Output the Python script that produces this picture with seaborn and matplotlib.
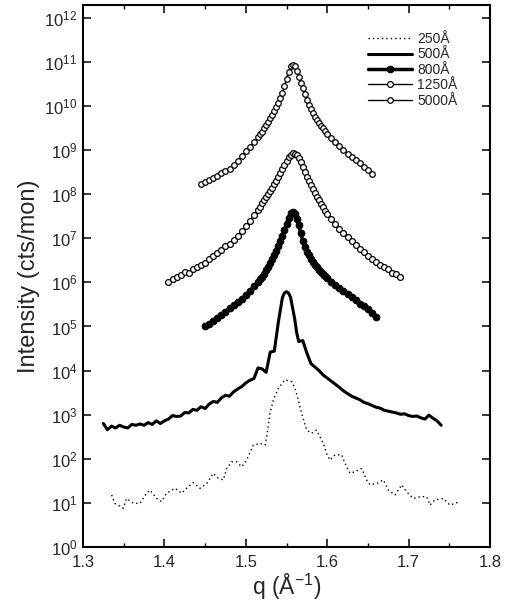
import numpy as np
import matplotlib
matplotlib.use("Agg")
import matplotlib.pyplot as plt
from matplotlib.ticker import LogFormatterMathtext, MultipleLocator, NullLocator
import seaborn as sns

# --- data (q in 1/A, log10 of intensity) ---
q_250 = [1.3352, 1.339, 1.3495, 1.3536, 1.3618, 1.370, 1.378, 1.3823, 1.3905, 1.3966,
         1.4027, 1.413, 1.4212, 1.4294, 1.4355, 1.4437, 1.452, 1.460, 1.4662, 1.4724,
         1.4765, 1.4826, 1.4888, 1.4949, 1.501, 1.5093, 1.5174, 1.5236, 1.5257, 1.5297,
         1.5338, 1.540, 1.5482, 1.5563, 1.5605, 1.5645, 1.5686, 1.5748, 1.5809, 1.587,
         1.5952, 1.5993, 1.6034, 1.6096, 1.6178, 1.6218, 1.628, 1.6341, 1.6423, 1.6485,
         1.6526, 1.6608, 1.669, 1.6751, 1.6833, 1.6915, 1.6976, 1.7058, 1.714, 1.7221,
         1.7263, 1.7324, 1.7426, 1.7508, 1.757, 1.7631]
log_250 = [1.18, 0.99, 0.88, 1.10, 0.99, 0.99, 1.22, 1.29, 1.10, 1.03,
           1.22, 1.33, 1.22, 1.37, 1.46, 1.33, 1.44, 1.67, 1.56, 1.52,
           1.78, 1.93, 1.93, 1.82, 1.97, 2.31, 2.35, 2.31, 2.50, 3.03,
           3.33, 3.60, 3.79, 3.75, 3.60, 3.33, 3.03, 2.65, 2.58, 2.65,
           2.35, 2.12, 1.97, 2.09, 2.09, 1.90, 1.67, 1.71, 1.78, 1.52,
           1.41, 1.44, 1.52, 1.29, 1.18, 1.41, 1.25, 1.10, 1.14, 1.14,
           0.95, 1.07, 1.10, 0.95, 0.99, 1.03]

q_500 = [1.325, 1.330, 1.335, 1.340, 1.345, 1.350, 1.355, 1.360, 1.365, 1.370,
         1.375, 1.380, 1.385, 1.390, 1.395, 1.400, 1.405, 1.410, 1.415, 1.420,
         1.425, 1.430, 1.435, 1.440, 1.445, 1.450, 1.455, 1.460, 1.465, 1.470,
         1.475, 1.480, 1.485, 1.490, 1.495, 1.500, 1.505, 1.510, 1.515, 1.520,
         1.525, 1.530, 1.535, 1.540, 1.545, 1.5475, 1.550, 1.5525, 1.555, 1.5575,
         1.560, 1.5625, 1.565, 1.570, 1.575, 1.580, 1.585, 1.590, 1.595, 1.600,
         1.605, 1.610, 1.615, 1.620, 1.625, 1.630, 1.635, 1.640, 1.645, 1.650,
         1.655, 1.660, 1.665, 1.670, 1.675, 1.680, 1.685, 1.690, 1.695, 1.700,
         1.705, 1.710, 1.715, 1.720, 1.725, 1.730, 1.735, 1.740]
log_500 = [2.80, 2.66, 2.74, 2.70, 2.76, 2.72, 2.70, 2.78, 2.76, 2.79,
           2.76, 2.82, 2.78, 2.86, 2.80, 2.86, 2.90, 2.98, 2.96, 2.97,
           3.05, 3.04, 3.12, 3.10, 3.18, 3.14, 3.24, 3.30, 3.28, 3.38,
           3.44, 3.42, 3.52, 3.58, 3.64, 3.72, 3.78, 3.82, 4.06, 4.04,
           3.96, 4.42, 4.44, 5.10, 5.66, 5.76, 5.79, 5.76, 5.66, 5.42,
           5.18, 4.86, 4.66, 4.68, 4.40, 4.16, 4.08, 4.00, 3.90, 3.83,
           3.76, 3.69, 3.62, 3.54, 3.48, 3.42, 3.38, 3.34, 3.28, 3.25,
           3.21, 3.17, 3.15, 3.10, 3.08, 3.06, 3.04, 3.01, 3.02, 2.98,
           2.96, 2.97, 2.93, 2.90, 2.99, 2.92, 2.86, 2.76]

q_800 = [1.450, 1.455, 1.460, 1.465, 1.470, 1.475, 1.480, 1.485, 1.490, 1.495,
         1.500, 1.505, 1.510, 1.515, 1.520, 1.525, 1.530, 1.535, 1.540, 1.545,
         1.550, 1.555, 1.560, 1.565, 1.570, 1.575, 1.580, 1.585, 1.590, 1.595,
         1.600, 1.605, 1.610, 1.615, 1.620, 1.625, 1.630, 1.635, 1.640, 1.645,
         1.650, 1.655, 1.660]
log_800 = [5.00, 5.06, 5.13, 5.20, 5.27, 5.34, 5.41, 5.48, 5.56, 5.63,
           5.72, 5.81, 5.91, 6.01, 6.13, 6.27, 6.44, 6.62, 6.82, 7.05,
           7.33, 7.57, 7.55, 7.30, 6.94, 6.70, 6.53, 6.40, 6.29, 6.19,
           6.10, 6.02, 5.94, 5.87, 5.80, 5.73, 5.66, 5.59, 5.52, 5.46,
           5.39, 5.31, 5.22]

q_1250 = [1.405, 1.410, 1.415, 1.420, 1.425, 1.430, 1.435, 1.440, 1.445, 1.450,
          1.455, 1.460, 1.465, 1.470, 1.475, 1.480, 1.485, 1.490, 1.495, 1.500,
          1.505, 1.510, 1.515, 1.520, 1.525, 1.530, 1.535, 1.540, 1.545, 1.550,
          1.555, 1.560, 1.565, 1.570, 1.575, 1.580, 1.585, 1.590, 1.595, 1.600,
          1.605, 1.610, 1.615, 1.620, 1.625, 1.630, 1.635, 1.640, 1.645, 1.650,
          1.655, 1.660, 1.665, 1.670, 1.675, 1.680, 1.685, 1.690]
log_1250 = [6.00, 6.08, 6.12, 6.16, 6.24, 6.22, 6.30, 6.34, 6.40, 6.44,
            6.52, 6.60, 6.67, 6.74, 6.82, 6.88, 6.97, 7.06, 7.16, 7.28,
            7.40, 7.52, 7.65, 7.79, 7.93, 8.07, 8.23, 8.40, 8.58, 8.76,
            8.90, 8.92, 8.82, 8.62, 8.40, 8.20, 8.02, 7.86, 7.70, 7.56,
            7.44, 7.32, 7.20, 7.11, 7.02, 6.93, 6.84, 6.76, 6.69, 6.60,
            6.52, 6.46, 6.40, 6.34, 6.30, 6.22, 6.18, 6.12]

q_5000 = [1.445, 1.450, 1.455, 1.460, 1.465, 1.470, 1.475, 1.480, 1.485, 1.490,
          1.495, 1.500, 1.505, 1.510, 1.515, 1.520, 1.525, 1.530, 1.535, 1.540,
          1.545, 1.550, 1.555, 1.560, 1.565, 1.570, 1.575, 1.580, 1.585, 1.590,
          1.595, 1.600, 1.605, 1.610, 1.615, 1.620, 1.625, 1.630, 1.635, 1.640,
          1.645, 1.650, 1.655]
log_5000 = [8.23, 8.27, 8.32, 8.36, 8.41, 8.47, 8.52, 8.58, 8.66, 8.75,
            8.86, 8.98, 9.08, 9.18, 9.30, 9.42, 9.56, 9.72, 9.88, 10.06,
            10.30, 10.62, 10.90, 10.90, 10.66, 10.40, 10.14, 9.94, 9.75, 9.61,
            9.49, 9.37, 9.27, 9.18, 9.10, 9.01, 8.92, 8.84, 8.77, 8.70,
            8.62, 8.54, 8.46]

# extra points read around the peaks, where the markers sit closer together
q_peak = [1.5175, 1.5225, 1.5275, 1.5325, 1.5375, 1.5425, 1.5475, 1.5525, 1.5575,
          1.5625, 1.5675, 1.5725, 1.5775, 1.5825, 1.5875, 1.5925, 1.5975]
log_800_peak = [6.07, 6.20, 6.35, 6.53, 6.72, 6.93, 7.19, 7.47, 7.60,
                7.44, 7.12, 6.81, 6.61, 6.46, 6.34, 6.24, 6.14]
log_1250_peak = [7.72, 7.86, 8.00, 8.15, 8.31, 8.49, 8.67, 8.84, 8.93,
                 8.88, 8.72, 8.51, 8.30, 8.11, 7.94, 7.78, 7.63]
log_5000_peak = [9.36, 9.49, 9.64, 9.80, 9.97, 10.17, 10.45, 10.78, 10.93,
                 10.80, 10.53, 10.27, 10.03, 9.84, 9.68, 9.55, 9.43]

x_ticks = [1.3, 1.4, 1.5, 1.6, 1.7, 1.8]
decades = list(range(0, 13))

sns.set_style("ticks")
plt.rcParams['font.family'] = ['Liberation Sans', 'DejaVu Sans']
plt.rcParams['mathtext.fontset'] = 'custom'
plt.rcParams['mathtext.rm'] = 'Liberation Sans'
plt.rcParams['mathtext.it'] = 'Liberation Sans:italic'
plt.rcParams['mathtext.bf'] = 'Liberation Sans:bold'

fig = plt.figure(figsize=(5.10, 6.04), dpi=100)
ax = fig.add_axes([83 / 510, 1 - 547 / 604, 407 / 510, 542 / 604])

sns.lineplot(x=q_250, y=10 ** np.array(log_250), ax=ax, color='k', lw=1.0,
             linestyle=(0, (1, 2.2)), label='250Å')
sns.lineplot(x=q_500, y=10 ** np.array(log_500), ax=ax, color='k', lw=2.2,
             label='500Å')
sns.lineplot(x=q_800 + q_peak, y=10 ** np.array(log_800 + log_800_peak), ax=ax,
             color='k', lw=2.5, marker='o', markersize=4.8, markerfacecolor='k',
             markeredgecolor='k', label='800Å')
sns.lineplot(x=q_1250 + q_peak, y=10 ** np.array(log_1250 + log_1250_peak), ax=ax,
             color='k', lw=1.0, marker='o', markersize=4.2, markerfacecolor='white',
             markeredgecolor='k', markeredgewidth=0.9, label='1250Å')
sns.lineplot(x=q_5000 + q_peak, y=10 ** np.array(log_5000 + log_5000_peak), ax=ax,
             color='k', lw=1.0, marker='o', markersize=4.0, markerfacecolor='white',
             markeredgecolor='k', markeredgewidth=0.9, label='5000Å')

ax.set_yscale('log')
ax.set_xlim(1.3, 1.8)
ax.set_ylim(1, 10 ** 12.29)
ax.set_xticks(x_ticks)
ax.set_xticklabels([f"{t:.1f}" for t in x_ticks])
ax.xaxis.set_minor_locator(MultipleLocator(0.05))
ax.set_yticks([10.0 ** k for k in decades])
ax.yaxis.set_major_formatter(LogFormatterMathtext())
ax.yaxis.set_minor_locator(NullLocator())

ax.tick_params(which='both', direction='in', top=True, right=True, color='k')
ax.tick_params(which='major', length=6, width=1.1, labelsize=12, pad=4)
ax.tick_params(which='minor', length=3, width=1.0)
ax.tick_params(axis='x', pad=6)
for s in ax.spines.values():
    s.set_linewidth(1.5)
    s.set_color('k')

ax.set_xlabel('q (Å$^{-1}$)', fontsize=16.5, labelpad=1)
ax.set_ylabel('Intensity (cts/mon)', fontsize=17, labelpad=3)

leg = ax.legend(loc='upper left', bbox_to_anchor=(0.70, 0.95), frameon=False,
                fontsize=10, handlelength=3.2, handletextpad=0.35, labelspacing=0.1,
                borderpad=0, borderaxespad=0)

fig.savefig('out.png', dpi=100)
